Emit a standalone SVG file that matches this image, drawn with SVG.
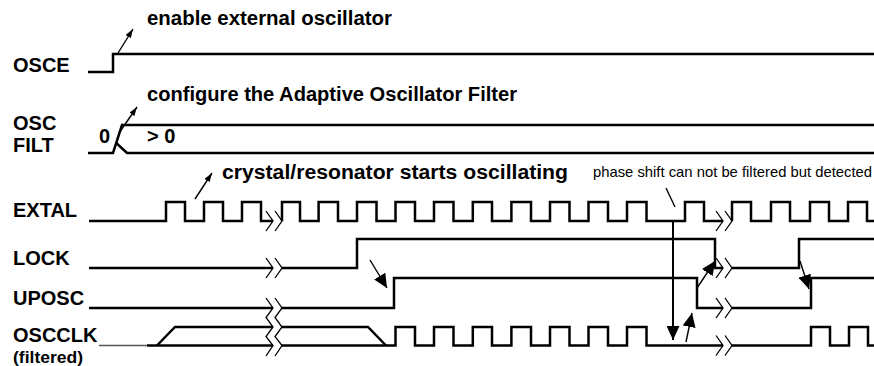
<svg xmlns="http://www.w3.org/2000/svg" width="874" height="366" viewBox="0 0 874 366">
<style>
.sig{fill:none;stroke:#000;stroke-width:2.5;stroke-linejoin:miter;stroke-linecap:butt}
.thin{fill:none;stroke:#555;stroke-width:1.4}
.brk{fill:none;stroke:#000;stroke-width:1.3}
.arr{fill:none;stroke:#000;stroke-width:1.4}
.lbl{font-family:"Liberation Sans",Arial,sans-serif;font-weight:bold;font-size:20px;fill:#000}
.ann{font-family:"Liberation Sans",Arial,sans-serif;font-weight:bold;font-size:20px;fill:#000}
.note{font-family:"Liberation Sans",Arial,sans-serif;font-size:15px;fill:#000}
</style>
<defs>
<marker id="sm" markerUnits="userSpaceOnUse" viewBox="0 0 9 6" markerWidth="9" markerHeight="6" refX="9" refY="3" orient="auto"><path d="M0,0 L9,3 L0,6 z" fill="#000"/></marker>
<marker id="big" markerUnits="userSpaceOnUse" viewBox="0 0 14 13" markerWidth="14" markerHeight="13" refX="14" refY="6.5" orient="auto"><path d="M0,0 L14,6.5 L0,13 z" fill="#000"/></marker>
</defs>
<rect width="874" height="366" fill="#fff"/>

<g id="osce">
<text class="lbl" x="13" y="72">OSCE</text>
<path class="sig" d="M88,72 H113 V54 H874"/>
<text class="ann" x="147" y="25" textLength="245" lengthAdjust="spacingAndGlyphs">enable external oscillator</text>
</g>

<g id="oscfilt">
<text class="lbl" x="13" y="130">OSC</text>
<text class="lbl" x="13" y="152">FILT</text>
<text class="lbl" x="99" y="143">0</text>
<text class="lbl" x="147" y="143">&gt; 0</text>
<path class="sig" d="M88,153 H113 L122,125 H874"/>
<path class="sig" d="M116.2,143 L127,153 H874"/>
<text class="ann" x="147" y="101" textLength="370" lengthAdjust="spacingAndGlyphs">configure the Adaptive Oscillator Filter</text>
</g>

<g id="extal">
<text class="lbl" x="13" y="217">EXTAL</text>
<path class="sig" d="M89,221 H166 V202 H185 V221 H204 V202 H223 V221 H242 V202 H261 V221 H273"/>
<path class="sig" d="M282,221 V202 H300 V221 H318.6 V202 H338 V221 H357 V202 H376.5 V221 H395.5 V202 H415 V221 H434 V202 H453.5 V221 H472.8 V202 H492 V221 H511.4 V202 H531 V221 H550 V202 H569.5 V221 H588.5 V202 H608 V221 H627 V202 H646.5 V221 H685 V202 H704 V221 H723"/>
<path class="sig" d="M732,221 V202 H751 V221 H771 V202 H790 V221 H810 V202 H829 V221 H848 V202 H867 V221 H874"/>
<text class="ann" x="222" y="179" textLength="346" lengthAdjust="spacingAndGlyphs">crystal/resonator starts oscillating</text>
<text class="note" x="593" y="177" textLength="279" lengthAdjust="spacingAndGlyphs">phase shift can not be filtered but detected</text>
</g>

<g id="lock">
<text class="lbl" x="13" y="265">LOCK</text>
<path class="sig" d="M89,268 H273"/>
<path class="sig" d="M282,268 H357 V239 H715 V268 H723"/>
<path class="sig" d="M732,268 H799 V239 H874"/>
</g>

<g id="uposc">
<text class="lbl" x="13" y="305">UPOSC</text>
<path class="sig" d="M89,308 H273"/>
<path class="sig" d="M282,308 H394 V278 H697 V308 H723"/>
<path class="sig" d="M732,308 H811 V278 H874"/>
</g>

<g id="oscclk">
<text class="lbl" x="13" y="342">OSCCLK</text>
<text class="lbl" x="13" y="363" textLength="70" lengthAdjust="spacingAndGlyphs" style="font-size:17px">(filtered)</text>
<path class="thin" d="M99,345.5 H147"/>
<path class="sig" d="M147,345.5 H273"/>
<path class="sig" d="M157,345.5 L175,327 H273"/>
<path class="sig" d="M282,327 H368 L386,345.5"/>
<path class="sig" d="M282,345.5 H395.5 V327 H415 V345.5 H434 V327 H453.5 V345.5 H472.8 V327 H492 V345.5 H511.4 V327 H531 V345.5 H550 V327 H569.5 V345.5 H588.5 V327 H608 V345.5 H627 V327 H646.5 V345.5 H723"/>
<path class="sig" d="M732,345.5 H811 V327 H830 V345.5 H849 V327 H868 V345.5 H874"/>
</g>

<g id="breaks">
<path class="brk" d="M266,211 L273,221 L266,231 M275,211 L282,221 L275,231"/>
<path class="brk" d="M266,258 L273,268 L266,278 M275,258 L282,268 L275,278"/>
<path class="brk" d="M266,298 L273,308 L266,317.5 L273,327 L266,336.5 L273,345.5 L266,356"/>
<path class="brk" d="M275,298 L282,308 L275,317.5 L282,327 L275,336.5 L282,345.5 L275,356"/>
<path class="brk" d="M716,211 L723,221 L716,231 M725,211 L732,221 L725,231"/>
<path class="brk" d="M716,258 L723,268 L716,278 M725,258 L732,268 L725,278"/>
<path class="brk" d="M716,298 L723,308 L716,318 M725,298 L732,308 L725,318"/>
<path class="brk" d="M716,335.5 L723,345.5 L716,355.5 M725,335.5 L732,345.5 L725,355.5"/>
</g>

<g id="connectors">
<line class="arr" x1="118" y1="53" x2="133" y2="29" marker-end="url(#sm)"/>
<line class="arr" x1="119" y1="133" x2="137" y2="107" marker-end="url(#sm)"/>
<line class="arr" x1="195" y1="199" x2="212" y2="173" marker-end="url(#sm)"/>
<line class="arr" x1="666" y1="188" x2="675" y2="207"/>
<line class="arr" x1="370" y1="260" x2="387" y2="288" marker-end="url(#big)"/>
<line class="arr" x1="673" y1="222" x2="673" y2="340" style="stroke-width:2" marker-end="url(#big)"/>
<line class="arr" x1="686" y1="342" x2="692" y2="313" marker-end="url(#big)"/>
<line class="arr" x1="697" y1="288" x2="715" y2="261" marker-end="url(#big)"/>
<line class="arr" x1="800" y1="261" x2="809" y2="289" marker-end="url(#big)"/>
</g>
</svg>
